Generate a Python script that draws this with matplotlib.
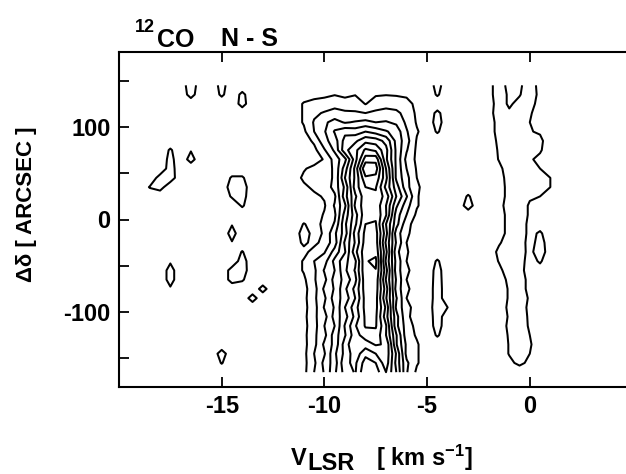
import numpy as np
import matplotlib.pyplot as plt

plt.rcParams['font.family'] = ['Liberation Sans', 'DejaVu Sans']
plt.rcParams['font.weight'] = 'bold'
plt.rcParams['mathtext.fontset'] = 'custom'
plt.rcParams['mathtext.rm'] = 'Liberation Sans:bold'
plt.rcParams['mathtext.bf'] = 'Liberation Sans:bold'
plt.rcParams['mathtext.default'] = 'rm'

# grid of the map: velocity channels and N-S offsets
velocity = np.arange(-20.0, 5.01, 0.5)
offset = np.arange(145, -166, -10)

# main cloud, channels -11.5 .. -5.0 km/s, rows from +145 down to -165
main_v0 = -11.5
main_rows = [
    "0 0 0 0 0 0 0 0 0 0 0 0 0 0",
    "0 0 0.2 0.3 0.45 0.3 0.45 0.3 0.4 0.45 0.4 0.3 0 0",
    "0 0.6 0.8 0.9 1.2 0.9 1.1 0.45 1.0 1.2 1.1 0.9 0.2 0",
    "0 0.6 1.3 1.6 1.8 1.7 1.6 1.5 1.7 1.8 1.7 1.2 0.3 0",
    "0 0.6 1.6 2.3 2.9 2.4 2.6 2.8 2.5 2.6 2.3 1.3 0.4 0",
    "0 0.3 1.5 2.4 3.6 4.2 4.0 4.5 4.1 3.6 3.1 1.6 0.6 0",
    "0 0 0.7 2.2 3.0 4.9 5.3 6.2 6.0 5.2 3.2 1.9 0.4 0",
    "0 0 0.2 1.4 2.7 5.2 6.2 7.7 7.3 5.8 3.3 1.6 0.3 0",
    "0 0 0 0.6 1.9 3.2 6.1 9.0 9.2 5.7 3.3 1.2 0.3 0",
    "0 0.4 0.8 0.9 1.7 4.0 6.8 10.5 10.0 6.5 3.3 1.5 0.4 0",
    "0 0.7 0.9 1.2 1.6 4.5 6.7 9.3 9.2 6.8 3.3 1.8 0.5 0",
    "0 0.3 0.7 0.8 1.9 3.7 7.0 8.5 8.6 6.2 4.0 1.8 0.7 0",
    "0 0 0.3 0.6 1.3 4.1 6.3 8.2 8.3 7.1 4.5 2.6 0.6 0",
    "0 0 0 0.4 1.6 3.3 6.7 8.1 8.2 6.5 3.7 1.9 0.6 0",
    "0 0 0 0.6 1.3 3.9 6.1 8.2 8.3 6.6 3.0 1.5 0.3 0",
    "0 0.55 0.2 0.7 1.6 4.3 6.3 8.5 8.6 5.5 2.9 0.8 0.1 0",
    "0 0.9 0.2 0.6 2.3 4.0 6.9 8.8 8.9 5.9 2.0 0.7 0 0",
    "0 0.7 0.2 0.9 2.0 4.7 6.6 9.0 9.0 5.3 2.4 0.5 0 0",
    "0 0.2 0.9 1.4 2.9 4.4 7.2 9.2 9.2 5.8 1.8 0.6 0 0",
    "0 0.6 1.5 2.1 3.8 5.2 6.3 9.4 9.75 5.3 2.2 0.5 0 0",
    "0 0.6 1.3 2.6 3.5 5.3 6.6 9.3 9.45 5.9 2.0 0.7 0 0",
    "0 0.3 1.4 2.2 3.9 4.8 6.2 9.2 9.2 5.4 2.4 0.5 0 0",
    "0 0.2 1.1 2.7 3.6 5.3 6.8 9.0 9.0 6.0 2.1 0.7 0 0",
    "0 0.2 1.3 2.3 4.0 4.9 6.5 8.9 8.9 5.6 2.6 0.5 0 0",
    "0 0.2 1.1 2.6 3.6 5.5 7.1 8.8 8.8 6.3 2.3 0.8 0.1 0",
    "0 0.2 1.3 2.1 3.9 5.1 6.8 8.7 8.7 5.9 2.9 0.7 0.1 0",
    "0 0.2 1.1 2.5 3.5 5.6 7.4 8.6 8.6 6.6 2.8 1.0 0.2 0",
    "0 0.2 1.3 2.2 4.0 5.4 7.1 8.0 8.2 6.5 3.6 0.9 0.4 0",
    "0 0.2 1.2 2.7 3.8 6.0 7.4 7.0 7.6 7.4 3.6 1.3 0.6 0",
    "0 0.2 1.5 2.4 4.3 5.8 7.1 5.8 6.5 7.2 4.4 1.2 0.6 0",
    "0 0.2 1.3 2.8 4.0 6.3 6.7 5.0 5.5 7.1 4.2 1.7 0.6 0",
    "0 0.2 1.5 2.6 4.3 5.9 6.6 4.6 5.0 6.5 4.5 1.6 0.3 0",
]

# weak ridge near 0 km/s, channels -2.0 .. +1.0 km/s
ridge_v0 = -2.0
ridge_rows = [
    "0.3 0.8 0.3 0.4 0.8 0.3 0",
    "0.3 0.8 0.4 0.45 0.9 0.3 0",
    "0.2 0.8 0.4 0.7 0.8 0.2 0",
    "0.2 0.9 0.6 0.9 0.6 0.1 0",
    "0.1 0.8 1.0 0.9 0.5 0.3 0",
    "0.1 0.8 1.0 1.0 0.55 0.4 0",
    "0 0.7 1.0 1.0 0.8 0.7 0",
    "0 0.6 1.0 1.0 0.8 0.6 0",
    "0 0.55 1.0 1.0 0.6 0.3 0",
    "0 0.3 0.9 1.0 0.55 0.5 0.4",
    "0 0.2 0.8 1.0 0.5 0.8 0.5",
    "0 0.1 0.8 1.0 0.7 0.9 0.5",
    "0 0.1 0.8 1.0 0.6 0.5 0.1",
    "0 0.2 0.9 0.9 0.4 0 0",
    "0 0.1 0.8 0.9 0.4 0 0",
    "0 0.1 0.8 0.9 0.3 0.2 0",
    "0 0.1 0.8 0.9 0.3 0.6 0.1",
    "0 0.4 0.9 0.9 0.2 0.8 0.1",
    "0 0.7 0.9 0.8 0.3 0.9 0.1",
    "0 0.55 0.9 0.8 0.2 0.6 0",
    "0 0.3 0.9 0.8 0.1 0.2 0",
    "0 0.1 0.7 0.8 0.3 0 0",
    "0 0 0.6 0.8 0.3 0 0",
    "0 0 0.6 0.9 0.4 0 0",
    "0 0 0.7 0.9 0.3 0 0",
    "0 0 0.6 0.8 0.4 0 0",
    "0 0 0.7 0.9 0.4 0 0",
    "0 0 0.6 0.9 0.5 0 0",
    "0 0 0.55 0.9 0.6 0 0",
    "0 0 0.55 0.9 0.5 0 0",
    "0 0 0.3 0.7 0.3 0 0",
    "0 0 0 0 0 0 0",
]

# small isolated spots (velocity, offset, value)
spot_v = [-16.5, -16.5, -15, -15, -14, -14,
          -17.5, -17.5, -17.5, -18, -17.5, -18, -18.5, -16.5, -16.5,
          -14.5, -14, -14.5, -14, -14.5, -14, -14,
          -14.5, -14.5, -14.5,
          -14, -14, -14.5, -14, -14.5, -14, -13.5, -13,
          -15, -15, -17.5, -17.5, -17.5, -17.5,
          -4.5, -4.5, -4.5, -4.5, -4.5, -3, -3,
          -4.5, -4.5, -4.5, -4.5, -4.5, -4.5, -4, -4.5, -4.5, -4.5]
spot_off = [145, 135, 145, 135, 135, 125,
            75, 65, 55, 45, 45, 35, 35, 65, 75,
            45, 45, 35, 35, 25, 25, 15,
            -5, -15, -25,
            -35, -45, -55, -55, -65, -65, -85, -75,
            -145, -155, -45, -55, -65, -75,
            145, 135, 115, 105, 95, 25, 15,
            -45, -55, -65, -75, -85, -95, -95, -105, -115, -125]
spot_val = [1.0, 0.8, 0.8, 0.65, 0.7, 0.8,
            0.6, 0.75, 0.85, 0.8, 0.9, 0.8, 0.55, 0.8, 0.45,
            0.6, 0.6, 0.9, 0.9, 0.6, 0.8, 0.6,
            0.45, 0.8, 0.45,
            0.55, 0.85, 0.8, 0.9, 0.8, 0.6, 0.85, 0.8,
            0.85, 0.55, 0.4, 0.8, 0.8, 0.4,
            0.8, 0.6, 0.7, 0.85, 0.6, 0.6, 0.9,
            0.6, 0.8, 0.85, 0.9, 0.9, 1.0, 0.5, 0.9, 0.85, 0.6]

levels = [0.5, 1.5, 2.5, 3.5, 4.5, 5.5, 6.5, 7.5, 8.5, 9.5]

T = np.zeros((len(offset), len(velocity)))


def put_block(rows, v0):
    j0 = int(round((v0 - velocity[0]) / 0.5))
    for i, row in enumerate(rows):
        vals = np.array([float(s) for s in row.split()])
        T[i, j0:j0 + len(vals)] = np.maximum(T[i, j0:j0 + len(vals)], vals)


put_block(main_rows, main_v0)
put_block(ridge_rows, ridge_v0)
for v, o, t in zip(spot_v, spot_off, spot_val):
    i = int(round((offset[0] - o) / 10))
    j = int(round((v - velocity[0]) / 0.5))
    T[i, j] = max(T[i, j], t)

fig = plt.figure(figsize=(6.26, 4.74), dpi=100)
W, H = 626.0, 474.0
ax = fig.add_axes([119 / W, 1 - 387 / H, (632.5 - 119) / W, (387 - 52) / H])

ax.contour(velocity, offset[::-1], T[::-1], levels=levels, colors='black',
           linewidths=1.45)

ax.set_xlim(-20, 5)
ax.set_ylim(-181, 181)
ax.set_xticks([-15, -10, -5, 0])
ax.set_xticklabels(['-15', '-10', '-5', '0'])
ax.set_yticks([-150, -100, -50, 0, 50, 100, 150])
ax.set_yticklabels(['', '-100', '', '0', '', '100', ''])
ax.tick_params(direction='in', length=7, width=1.3, top=True, right=False,
               labelsize=17)
ax.tick_params(axis='x', pad=6)
ax.tick_params(axis='y', pad=6)
for s in ax.spines.values():
    s.set_linewidth(1.5)

# title and axis labels placed in pixel positions
fig.text(135 / W, 1 - 32 / H, '12', fontsize=13, va='baseline')
fig.text(157 / W, 1 - 47 / H, 'CO', fontsize=18, va='baseline')
fig.text(221 / W, 1 - 46 / H, 'N - S', fontsize=18, va='baseline')

fig.text(291 / W, 1 - 465 / H, 'V', fontsize=17, va='baseline')
fig.text(307 / W, 1 - 470 / H, 'LSR', fontsize=17, va='baseline')
fig.text(376 / W, 1 - 466 / H, r'[ km s$^{-1}$]', fontsize=17, va='baseline')

fig.text(27 / W, 1 - 204 / H, 'Δδ [ ARCSEC ]', fontsize=16, rotation=90,
         ha='center', va='center')

fig.savefig('out.png', dpi=100)
